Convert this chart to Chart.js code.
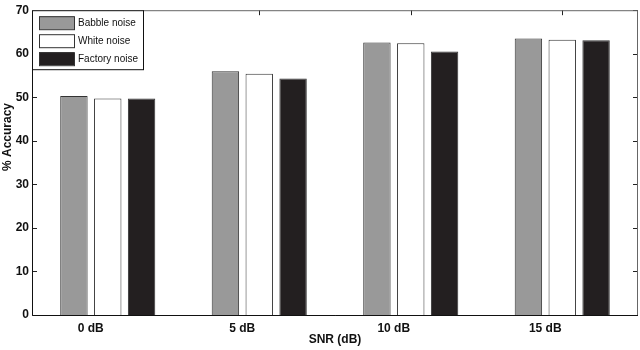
<!DOCTYPE html>
<html>
<head>
<meta charset="utf-8">
<script src="https://cdn.jsdelivr.net/npm/chart.js@4/dist/chart.umd.min.js"></script>
<style>
  html, body { margin: 0; padding: 0; background: #fff; }
  #wrap { width: 640px; height: 350px; }
</style>
</head>
<body>
<div id="wrap"><canvas id="snrChart" width="640" height="350"></canvas></div>
<script>
const categories = ["0 dB", "5 dB", "10 dB", "15 dB"];
const babble = [50.3, 56.0, 62.6, 63.5];
const white = [49.7, 55.4, 62.4, 63.2];
const factory = [49.7, 54.3, 60.5, 63.1];
const yTicks = [0, 10, 20, 30, 40, 50, 60, 70];
const yTitle = "% Accuracy";

const tickFont = { family: "'Liberation Sans Narrow', 'Liberation Sans', Arial", size: 12, weight: "bold" };

// inward tick marks + frame, like the matlab figure
const frameTicks = {
  id: "frameTicks",
  afterDatasetsDraw(chart) {
    const { ctx, chartArea: a, scales } = chart;
    ctx.save();
    ctx.strokeStyle = "#222";
    ctx.lineWidth = 1;
    ctx.beginPath();
    yTicks.forEach((v) => {
      const y = Math.round(scales.y.getPixelForValue(v)) + 0.5;
      ctx.moveTo(a.left, y); ctx.lineTo(a.left + 5, y);
      ctx.moveTo(a.right, y); ctx.lineTo(a.right - 5, y);
    });
    categories.forEach((c, i) => {
      const x = Math.round(scales.x.getPixelForValue(i)) + 0.5;
      ctx.moveTo(x, a.top); ctx.lineTo(x, a.top + 5);
    });
    ctx.stroke();
    // frame
    ctx.strokeStyle = "#666";
    ctx.strokeRect(a.left + 0.5, a.top + 0.5, a.right - a.left - 1, a.bottom - a.top);
    ctx.strokeStyle = "#111";
    ctx.beginPath();
    ctx.moveTo(a.left + 0.5, a.top);
    ctx.lineTo(a.left + 0.5, a.bottom + 0.5);
    ctx.lineTo(a.right, a.bottom + 0.5);
    ctx.stroke();
    // y title sits a bit above the middle in the original
    ctx.translate(8, 137);
    ctx.rotate(-Math.PI / 2);
    ctx.font = "bold 12px 'Liberation Sans Narrow', 'Liberation Sans', Arial";
    ctx.fillStyle = "#111";
    ctx.textAlign = "center";
    ctx.textBaseline = "middle";
    ctx.fillText(yTitle, 0, 0);
    ctx.restore();
  },
};

// legend box in the upper left corner of the plot
const boxLegend = {
  id: "boxLegend",
  afterDraw(chart) {
    const { ctx, chartArea: a } = chart;
    ctx.save();
    ctx.fillStyle = "#fff";
    ctx.fillRect(a.left, a.top, 111, 59);
    ctx.strokeStyle = "#111";
    ctx.lineWidth = 1;
    ctx.strokeRect(a.left + 0.5, a.top + 0.5, 111, 59);
    ctx.font = "10px 'Liberation Sans', Arial";
    ctx.textBaseline = "middle";
    chart.data.datasets.forEach((ds, i) => {
      const y = a.top + 6 + i * 18;
      ctx.fillStyle = ds.backgroundColor;
      ctx.fillRect(a.left + 7, y, 35, 13);
      ctx.strokeStyle = "#333";
      ctx.strokeRect(a.left + 7.5, y + 0.5, 35, 13);
      ctx.fillStyle = "#111";
      ctx.fillText(ds.label, a.left + 46, y + 7);
    });
    ctx.restore();
  },
};

new Chart(document.getElementById("snrChart").getContext("2d"), {
  type: "bar",
  data: {
    labels: categories,
    datasets: [
      { label: "Babble noise", data: babble, backgroundColor: "#999999", borderColor: "#333333", borderWidth: 1 },
      { label: "White noise", data: white, backgroundColor: "#ffffff", borderColor: "#333333", borderWidth: 1 },
      { label: "Factory noise", data: factory, backgroundColor: "#231f20", borderColor: "#333333", borderWidth: 1 },
    ],
  },
  options: {
    responsive: false,
    animation: false,
    categoryPercentage: 0.67,
    barPercentage: 0.81,
    layout: { padding: { top: 4, right: 2, left: 0, bottom: 0 } },
    plugins: { legend: { display: false }, tooltip: { enabled: false } },
    scales: {
      x: {
        grid: { display: false, drawTicks: false },
        border: { display: false },
        ticks: { font: tickFont, color: "#111", padding: 6, labelOffset: -17, maxRotation: 0 },
        title: { display: true, text: "SNR (dB)", font: tickFont, color: "#111", padding: { top: 0, bottom: 3 } },
        afterFit: (s) => { s.height = 35; },
      },
      y: {
        min: 0,
        max: 70,
        grid: { display: false, drawTicks: false },
        border: { display: false },
        ticks: { stepSize: 10, font: tickFont, color: "#111", padding: 3 },
        afterFit: (s) => { s.width = 32; },
      },
    },
  },
  plugins: [frameTicks, boxLegend],
});
</script>
</body>
</html>
